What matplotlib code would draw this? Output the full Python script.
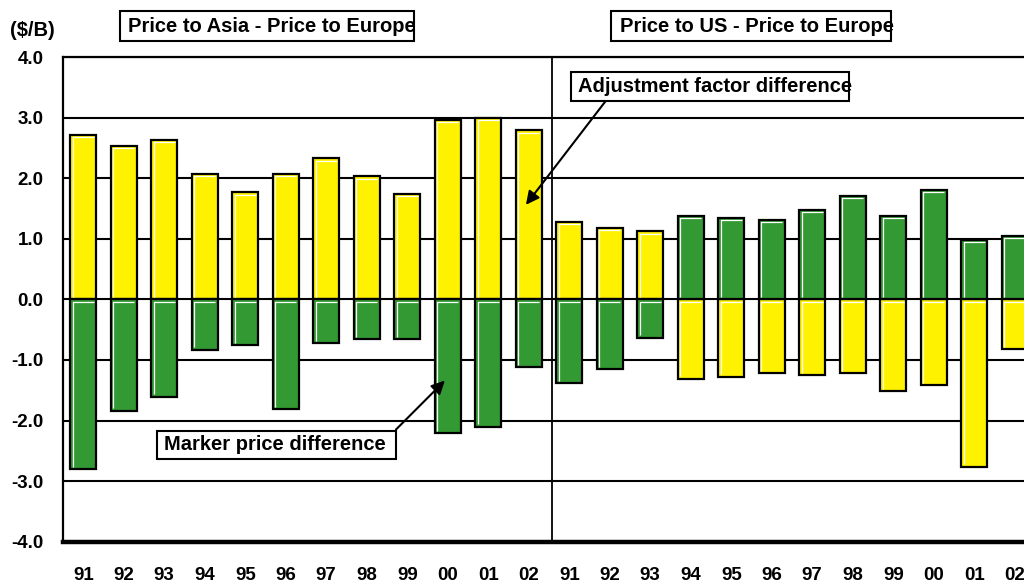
import numpy as np
import matplotlib
matplotlib.use("Agg")
import matplotlib.pyplot as plt
from matplotlib.patches import Rectangle

plt.rcParams['font.family'] = ['Liberation Sans', 'DejaVu Sans']
plt.rcParams['font.weight'] = 'bold'

# datos
years = ['91', '92', '93', '94', '95', '96', '97', '98', '99', '00', '01', '02']
asia_adjust = [2.72, 2.53, 2.63, 2.07, 1.77, 2.07, 2.33, 2.03, 1.74, 2.96, 3.00, 2.79]
asia_marker = [-2.80, -1.84, -1.61, -0.83, -0.76, -1.81, -0.72, -0.66, -0.66, -2.21, -2.10, -1.12]
us_adjust = [1.28, 1.18, 1.12, -1.31, -1.28, -1.22, -1.25, -1.22, -1.52, -1.42, -2.76, -0.82]
us_marker = [-1.38, -1.15, -0.63, 1.38, 1.35, 1.31, 1.48, 1.71, 1.38, 1.81, 0.98, 1.05]
yticks = [4.0, 3.0, 2.0, 1.0, 0.0, -1.0, -2.0, -3.0, -4.0]

amarillo = '#FFF200'
verde = '#339933'
ancho = 0.64

etiquetas = years + years
ajuste = asia_adjust + us_adjust
marcador = asia_marker + us_marker
x = np.arange(len(etiquetas))

W, H = 1024, 582
fig = plt.figure(figsize=(W / 100, H / 100), dpi=100)
ax = fig.add_axes([63 / W, 40.3 / H, 972 / W, 484.7 / H])

for valores, color in [(ajuste, amarillo), (marcador, verde)]:
    ax.bar(x, valores, width=ancho, color=color, edgecolor='black', linewidth=1.6, zorder=3)
    # brillo blanco arriba y a la izquierda de cada barra
    dx, dy = 0.055, 0.04
    for xi, v in zip(x, valores):
        arriba, abajo = max(0, v), min(0, v)
        izq, der = xi - ancho / 2 + dx, xi + ancho / 2 - dx
        ax.plot([izq, izq, der], [abajo + dy, arriba - dy, arriba - dy],
                color='white', linewidth=0.9, zorder=4, solid_capstyle='butt')

ax.set_xlim(-0.5, 23.5)
ax.set_ylim(-4.0, 4.0)
ax.set_yticks(yticks)
ax.set_yticklabels([f"{v:.1f}" for v in yticks], fontsize=13.5, fontweight='bold')
ax.set_xticks(x)
ax.set_xticklabels(etiquetas, fontsize=13.5, fontweight='bold')
ax.tick_params(axis='both', length=0)
ax.tick_params(axis='x', pad=18)
ax.tick_params(axis='y', pad=14)

ax.set_axisbelow(True)
ax.yaxis.grid(True, color='black', linewidth=1.5)
ax.axvline(11.57, color='black', linewidth=1.3, zorder=2)

ax.spines['top'].set_linewidth(1.6)
ax.spines['left'].set_linewidth(1.6)
ax.spines['bottom'].set_linewidth(3.2)
ax.spines['right'].set_visible(False)


def caja_texto(texto, x0, x1, y0, y1, xt):
    # caja en pixeles de la figura (y desde arriba) y texto alineado a la izquierda
    fig.add_artist(Rectangle((x0 / W, 1 - y1 / H), (x1 - x0) / W, (y1 - y0) / H,
                             transform=fig.transFigure, facecolor='white',
                             edgecolor='black', linewidth=1.5, zorder=5))
    fig.text(xt / W, 1 - (y0 + y1) / 2 / H, texto, fontsize=14.5, fontweight='bold',
             ha='left', va='center', zorder=6)


fig.text(10 / W, 1 - 30 / H, '($/B)', fontsize=14.5, fontweight='bold', va='center', ha='left')
caja_texto('Price to Asia - Price to Europe', 120, 414, 11, 41, 128)
caja_texto('Price to US - Price to Europe', 611, 891, 11, 41, 620)
caja_texto('Adjustment factor difference', 571, 849, 72, 101, 578)
caja_texto('Marker price difference', 157, 396, 431, 459, 164)

flecha = dict(arrowstyle='-|>', color='black', linewidth=1.5, mutation_scale=20,
              shrinkA=0, shrinkB=0)
ax.annotate('', xy=(10.93, 1.56), xytext=(12.93, 3.30), arrowprops=flecha, zorder=5)
ax.annotate('', xy=(8.93, -1.34), xytext=(7.72, -2.15), arrowprops=flecha, zorder=5)

fig.savefig('out.png', dpi=100)
